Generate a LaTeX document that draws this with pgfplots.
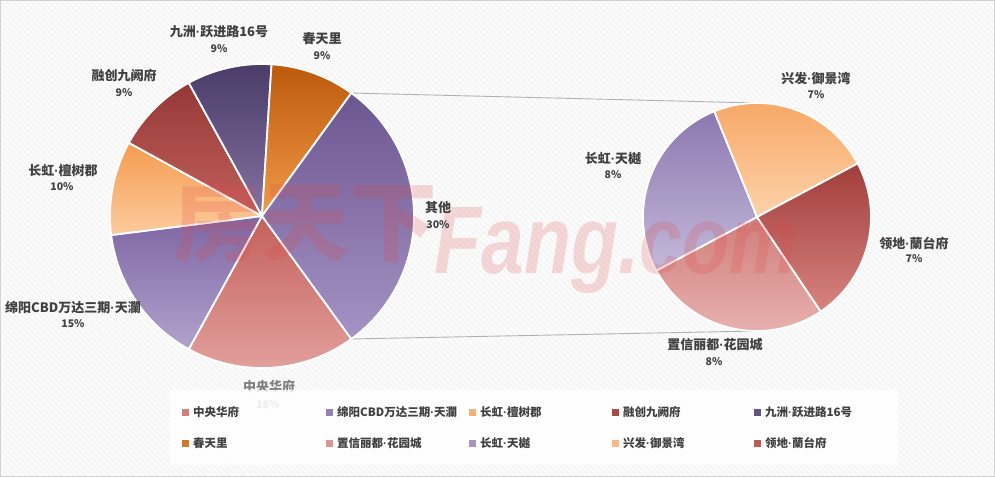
\documentclass[border=0pt]{standalone}
\usepackage{pgfplots}
\pgfplotsset{compat=1.18}
\usepackage{fontspec}
\setmainfont{Noto Sans CJK SC}
\newfontfamily\wmfont{Liberation Sans}
\usetikzlibrary{patterns.meta}
% narrow middle dot (the CJK one is full width)
\protected\def\dt{{\wmfont\char"00B7}}

\definecolor{txt}{HTML}{404040}
% slice colours: top / bottom of the gradient
\definecolor{zhtop}{HTML}{C4605C}\definecolor{zhbot}{HTML}{E3A3A0}
\definecolor{mytop}{HTML}{7D66A3}\definecolor{mybot}{HTML}{B1A2CD}
\definecolor{chtop}{HTML}{F59C50}\definecolor{chbot}{HTML}{FCCB9E}
\definecolor{rctop}{HTML}{953835}\definecolor{rcbot}{HTML}{C2615E}
\definecolor{jztop}{HTML}{4A3B68}\definecolor{jzbot}{HTML}{85729F}
\definecolor{cttop}{HTML}{BD5A0C}\definecolor{ctbot}{HTML}{F09A48}
\definecolor{qttop}{HTML}{6C5690}\definecolor{qtbot}{HTML}{A593C4}
\definecolor{zxtop}{HTML}{D07E7B}\definecolor{zxbot}{HTML}{E8B3B1}
\definecolor{tytop}{HTML}{8C78B0}\definecolor{tybot}{HTML}{C4B9D9}
\definecolor{xftop}{HTML}{F6A460}\definecolor{xfbot}{HTML}{FDD2AA}
\definecolor{ldtop}{HTML}{A13D3A}\definecolor{ldbot}{HTML}{D78481}

% append (expanded) drawing commands to a macro
\newcommand\appendcmd[2]{\xdef#1{\unexpanded\expandafter{#1}#2}}

\begin{document}
\begin{tikzpicture}
\tikzset{slice/.style={draw=white, line width=1.8pt, line join=round}}

% left pie: share in %, starts at -54 deg (其他 centred on the right)
\gdef\leftpie{}
\gdef\s{306}
\foreach \v/\c in {18/zh,15/my,10/ch,9/rc,9/jz,9/ct,30/qt} {
  \pgfmathsetmacro\e{\s-\v*3.6}
  \appendcmd\leftpie{\noexpand\path[slice, top color=\c top, bottom color=\c bot]
    (262,261) -- ++(\s:152pt) arc[start angle=\s, end angle=\e, radius=152pt] -- cycle;}
  \xdef\s{\e}
}
% right pie: split of 其他 (30 %)
\gdef\rightpie{}
\gdef\s{304}
\foreach \v/\c in {8/zx,8/ty,7/xf,7/ld} {
  \pgfmathsetmacro\e{\s-\v/30*360}
  \appendcmd\rightpie{\noexpand\path[slice, top color=\c top, bottom color=\c bot]
    (757,260) -- ++(\s:114pt) arc[start angle=\s, end angle=\e, radius=114pt] -- cycle;}
  \xdef\s{\e}
}
\pgfmathsetmacro\half{30*3.6/2}

% legend entries
\gdef\legendcmds{}
\foreach \x/\y/\c/\t in {185/65/zh/中央华府, 329/65/my/绵阳CBD万达三期\dt 天瀾, 472/65/ch/长虹\dt 檀树郡,
    615/65/rc/融创九阙府, 757/65/jz/九洲\dt 跃进路16号,
    185/34/ct/春天里, 329/34/zx/置信丽都\dt 花园城, 472/34/ty/长虹\dt 天樾,
    615/34/xf/兴发\dt 御景湾, 757/34/ld/领地\dt 蘭台府} {
  \pgfmathsetmacro\mx{\x-3.5}\pgfmathsetmacro\my{\y-3.5}\pgfmathsetmacro\tx{\x+8}
  \appendcmd\legendcmds{\noexpand\fill[\c top!55!\c bot] (\mx,\my) rectangle ++(7pt,7pt);
    \noexpand\node[lg] at (\tx,\y) {\t};}
}

\begin{axis}[
  width=995pt, height=477pt, scale only axis,
  xmin=0, xmax=995, ymin=0, ymax=477,
  enlargelimits=false, hide axis, clip=false]

% background
\fill[gray!7] (0,0) rectangle (995,477);
\fill[pattern={Lines[angle=-45,distance=4pt,line width=1.5pt]}, pattern color=white] (0,0) rectangle (995,477);
\draw[gray!35] (0.5,0.5) rectangle (994.5,476.5);

% connector lines
\draw[gray!60, line width=0.9pt] (262,261) ++(\half:152pt) -- (757,374);
\draw[gray!60, line width=0.9pt] (262,261) ++(-\half:152pt) -- (757,146);

\leftpie
\rightpie

% watermark
\node[text={rgb,255:red,225;green,70;blue,70}, opacity=0.2, font=\bfseries\fontsize{88}{90}\selectfont] at (305,255) {房天下};
\node[text={rgb,255:red,225;green,70;blue,70}, opacity=0.2, anchor=base west, xscale=0.8,
  font=\wmfont\bfseries\itshape\fontsize{96}{96}\selectfont] at (432,204) {Fang.com};

% data labels
\tikzset{nm/.style={text=txt, font=\bfseries\fontsize{13}{15}\selectfont},
         pc/.style={text=txt, font=\bfseries\fontsize{10.5}{12}\selectfont}}
\node[nm] at (219,445) {九洲\dt 跃进路16号}; \node[pc] at (219,428) {9\%};
\node[nm] at (322,438) {春天里};          \node[pc] at (322,421) {9\%};
\node[nm] at (124,401) {融创九阙府};      \node[pc] at (124,384) {9\%};
\node[nm] at (63,306)  {长虹\dt 檀树郡};     \node[pc] at (62,290)  {10\%};
\node[nm] at (73,169)  {绵阳CBD万达三期\dt 天瀾}; \node[pc] at (73,153) {15\%};
\node[nm, text=gray] at (269,90) {中央华府}; \node[pc, text=gray!70] at (268,72) {18\%};
\node[nm] at (438,269) {其他};            \node[pc] at (438,252) {30\%};
\node[nm] at (816,399) {兴发\dt 御景湾};     \node[pc] at (816,382) {7\%};
\node[nm] at (613,318) {长虹\dt 天樾};       \node[pc] at (613,302) {8\%};
\node[nm] at (914,234) {领地\dt 蘭台府};     \node[pc] at (914,218) {7\%};
\node[nm] at (715,132) {置信丽都\dt 花园城}; \node[pc] at (714,115) {8\%};

% legend
\fill[white, opacity=0.8] (170,12) rectangle (898,87);
\tikzset{lg/.style={text=txt, anchor=west, inner sep=0pt, font=\bfseries\fontsize{11.5}{13}\selectfont}}
\legendcmds
\end{axis}
\end{tikzpicture}
\end{document}
